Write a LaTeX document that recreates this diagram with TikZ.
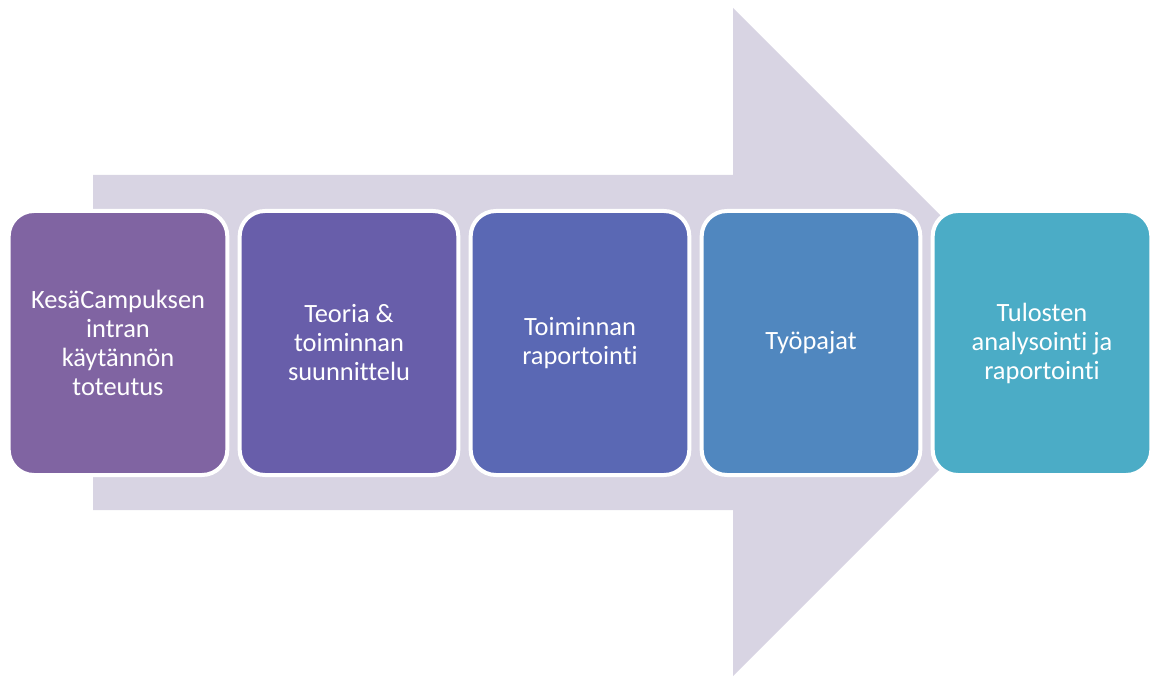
\documentclass[tikz,border=0pt]{standalone}
\usepackage{fontspec}
\setmainfont{Carlito}[Ligatures=NoCommon]
\definecolor{nuoli}{HTML}{D8D4E3}
\definecolor{vari1}{HTML}{8064A2}
\definecolor{vari2}{HTML}{685EAA}
\definecolor{vari3}{HTML}{5A68B4}
\definecolor{vari4}{HTML}{5087BF}
\definecolor{vari5}{HTML}{4BACC6}
\tikzset{
  vaihe/.style={draw=white, line width=3pt, rounded corners=19pt,
    minimum width=164pt, minimum height=198pt, align=center,
    text=white, font=\fontsize{19.8}{21.75}\selectfont}
}
\begin{document}
\begin{tikzpicture}[x=0.75pt,y=-0.75pt]
  \useasboundingbox (0,0) rectangle (1157,677);
  % taustanuoli
  \fill[nuoli] (93,175) -- (733,175) -- (733,8) -- (1067,342) -- (733,676) -- (733,510) -- (93,510) -- cycle;
  \node[vaihe, fill=vari1] (s1) at (118,343) {KesäCampuksen\\intran\\käytännön\\toteutus};
  \node[vaihe, fill=vari2] (s2) at (349,343) {Teoria \&\\toiminnan\\suunnittelu};
  \node[vaihe, fill=vari3] (s3) at (580,343) {Toiminnan\\raportointi};
  \node[vaihe, fill=vari4] (s4) at (811,343) {Työpajat};
  \node[vaihe, fill=vari5] (s5) at (1042,343) {Tulosten\\analysointi ja\\raportointi};
\end{tikzpicture}
\end{document}
